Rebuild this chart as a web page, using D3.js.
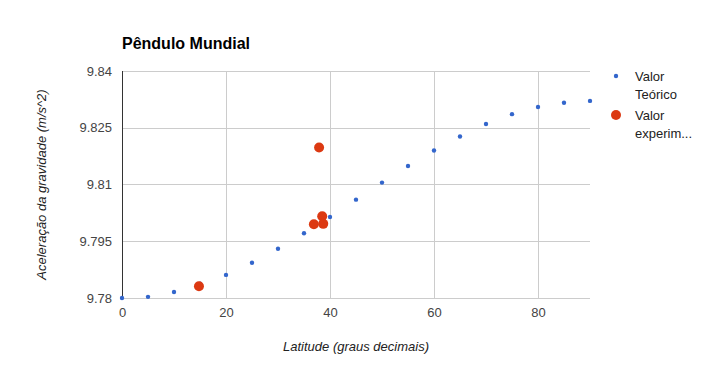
<!DOCTYPE html>
<html>
<head>
<meta charset="utf-8">
<script src="https://cdn.jsdelivr.net/npm/d3@7"></script>
<style>
  body { margin: 0; background: #fff; }
  svg { font-family: Arial, "Liberation Sans", sans-serif; }
</style>
</head>
<body>
<svg id="chart" width="712" height="371"></svg>
<script>
// latitude (degrees) and theoretical gravity
var latTeorico = [0, 5, 10, 15, 20, 25, 30, 35, 40, 45, 50, 55, 60, 65, 70, 75, 80, 85, 90];
var gTeorico = [9.7800, 9.7803, 9.7816, 9.7838, 9.7861, 9.7893, 9.7930, 9.7971, 9.8014, 9.8060,
                9.8105, 9.8149, 9.8190, 9.8227, 9.8260, 9.8286, 9.8305, 9.8316, 9.8321];
// experimental measurements
var latExp = [14.8, 37.9, 38.5, 36.9, 38.7];
var gExp = [9.7831, 9.8198, 9.8016, 9.7995, 9.7996];

var xTicks = [0, 20, 40, 60, 80];
var yTicks = [9.78, 9.795, 9.81, 9.825, 9.84];
var seriesNames = [["Valor", "Teórico"], ["Valor", "experim..."]];
var seriesColors = ["#3366cc", "#dc3912"];

var margin = {top: 71, left: 122};
var width = 468, height = 227;

var svg = d3.select("#chart");
var x = d3.scaleLinear().domain([0, 90]).range([0, width]);
var y = d3.scaleLinear().domain([9.78, 9.84]).range([height, 0]);

var chart = svg.append("g")
  .attr("transform", "translate(" + margin.left + "," + margin.top + ")");

// gridlines
chart.selectAll(".hgrid")
  .data(yTicks)
  .enter().append("line")
  .attr("x1", 0).attr("x2", width)
  .attr("y1", function(d) { return Math.round(y(d)) + 0.5; })
  .attr("y2", function(d) { return Math.round(y(d)) + 0.5; })
  .attr("stroke", "#cccccc");

chart.selectAll(".vgrid")
  .data(xTicks.filter(function(d) { return d > 0; }))
  .enter().append("line")
  .attr("y1", 0).attr("y2", height)
  .attr("x1", function(d) { return Math.round(x(d)) + 0.5; })
  .attr("x2", function(d) { return Math.round(x(d)) + 0.5; })
  .attr("stroke", "#cccccc");

// baseline at x = 0
chart.append("line")
  .attr("x1", x(0) + 0.5).attr("x2", x(0) + 0.5)
  .attr("y1", 0).attr("y2", height)
  .attr("stroke", "#333333");

// axes (labels only)
var yAxis = d3.axisLeft(y).tickValues(yTicks).tickSize(0).tickPadding(10)
  .tickFormat(function(d) { return String(+d.toFixed(3)); });
var xAxis = d3.axisBottom(x).tickValues(xTicks).tickSize(0).tickPadding(10);

var gy = chart.append("g").call(yAxis);
var gx = chart.append("g").attr("transform", "translate(0," + height + ")").call(xAxis);
[gy, gx].forEach(function(g) {
  g.select(".domain").remove();
  g.selectAll("text").attr("fill", "#444444").style("font-size", "13px")
    .style("font-family", "Arial, 'Liberation Sans', sans-serif");
});

// points
chart.selectAll(".teo")
  .data(latTeorico)
  .enter().append("circle")
  .attr("cx", function(d) { return x(d); })
  .attr("cy", function(d, i) { return y(gTeorico[i]); })
  .attr("r", 2.2)
  .attr("fill", seriesColors[0]);

chart.selectAll(".exp")
  .data(latExp)
  .enter().append("circle")
  .attr("cx", function(d) { return x(d); })
  .attr("cy", function(d, i) { return y(gExp[i]); })
  .attr("r", 5)
  .attr("fill", seriesColors[1]);

// title
svg.append("text")
  .attr("x", 122).attr("y", 49)
  .style("font-size", "16px").style("font-weight", "bold")
  .attr("fill", "#000")
  .text("Pêndulo Mundial");

// axis titles
svg.append("text")
  .attr("x", margin.left + width / 2).attr("y", 351)
  .attr("text-anchor", "middle")
  .style("font-size", "13px").style("font-style", "italic")
  .attr("fill", "#222")
  .text("Latitude (graus decimais)");

svg.append("text")
  .attr("transform", "translate(46," + (margin.top + height / 2) + ") rotate(-90)")
  .attr("text-anchor", "middle")
  .style("font-size", "13px").style("font-style", "italic")
  .attr("fill", "#222")
  .text("Aceleração da gravidade (m/s^2)");

// legend
var legend = svg.append("g").attr("transform", "translate(616,76)");
var item = legend.selectAll(".item")
  .data(seriesNames)
  .enter().append("g")
  .attr("transform", function(d, i) { return "translate(0," + (i * 39) + ")"; });
item.append("circle")
  .attr("r", function(d, i) { return i === 0 ? 2.2 : 5; })
  .attr("fill", function(d, i) { return seriesColors[i]; });
item.selectAll("text")
  .data(function(d) { return d; })
  .enter().append("text")
  .attr("x", 19)
  .attr("y", function(d, j) { return 5 + j * 18; })
  .style("font-size", "13px")
  .attr("fill", "#222")
  .text(function(d) { return d; });
</script>
</body>
</html>
